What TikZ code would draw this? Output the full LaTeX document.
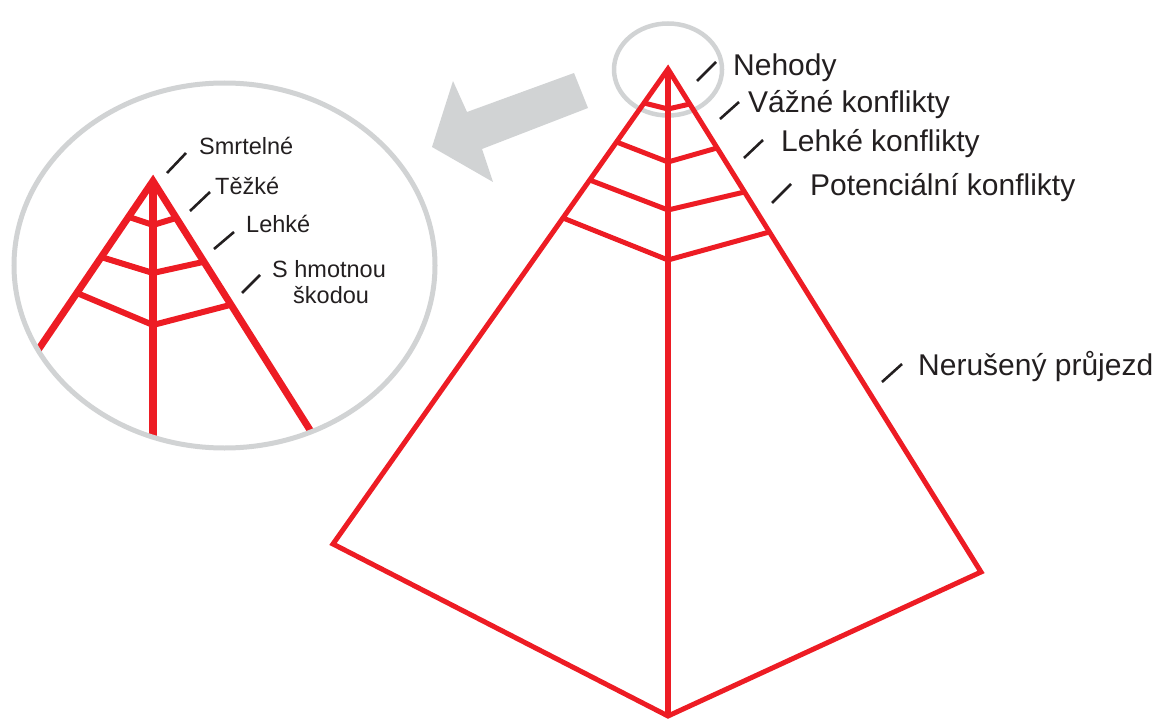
\documentclass[tikz,border=0pt]{standalone}
\usepackage{fontspec}
\setmainfont{Liberation Sans}
\definecolor{pyrred}{HTML}{ED1C24}
\definecolor{zoomgray}{HTML}{D1D3D4}
\definecolor{txt}{HTML}{231F20}
\begin{document}
\begin{tikzpicture}[x=1pt,y=-1pt,
  redline/.style={draw=pyrred, line width=#1, line join=miter, miter limit=10},
  tickline/.style={draw=txt, line width=2.6pt},
  graystroke/.style={draw=zoomgray, line width=#1},
  biglabel/.style={anchor=base west, inner sep=0pt, text=txt, font=\fontsize{30pt}{36pt}\selectfont},
  smalllabel/.style={anchor=base west, inner sep=0pt, text=txt, font=\fontsize{23.5pt}{28pt}\selectfont},
]
\useasboundingbox (0,0) rectangle (1166,722);

% ---------- magnifier circle (left) ----------
\coordinate (zc) at (224.5,265.5);
\begin{scope}
  \clip (zc) ellipse [x radius=211pt, y radius=183pt];
  \coordinate (a) at (153,181);
  \coordinate (al) at (-51,481);
  \coordinate (ar) at (388.5,554.5);
  \coordinate (ab) at (153,470);
  \draw[redline=7pt] (al) -- (a) -- (ar);
  \draw[redline=8pt] (a) -- (ab);
  \coordinate (b1l) at (129,217); \coordinate (b1c) at (153,225); \coordinate (b1r) at (176,218);
  \coordinate (b2l) at (101,257); \coordinate (b2c) at (153,273); \coordinate (b2r) at (203,262);
  \coordinate (b3l) at (77,293);  \coordinate (b3c) at (153,325); \coordinate (b3r) at (230,305);
  \draw[redline=6pt] (b1l) -- (b1c) -- (b1r);
  \draw[redline=6pt] (b2l) -- (b2c) -- (b2r);
  \draw[redline=6pt] (b3l) -- (b3c) -- (b3r);
\end{scope}
\draw[graystroke=5pt] (zc) ellipse [x radius=210.5pt, y radius=182.5pt];

% inner labels and ticks
\coordinate (t1a) at (167,173); \coordinate (t1b) at (186,153);
\coordinate (t2a) at (190,211); \coordinate (t2b) at (210,192);
\coordinate (t3a) at (214,249); \coordinate (t3b) at (234,232);
\coordinate (t4a) at (242,293); \coordinate (t4b) at (260,275);
\draw[tickline] (t1a) -- (t1b);
\draw[tickline] (t2a) -- (t2b);
\draw[tickline] (t3a) -- (t3b);
\draw[tickline] (t4a) -- (t4b);
\node[smalllabel] (smrt) at (199,155) {Smrtelné};
\node[smalllabel] (tezk) at (215,194) {Těžké};
\node[smalllabel] (lehk) at (246,232) {Lehké};
\node[smalllabel] (hmot) at (272,277) {S hmotnou};
\node[smalllabel] (skod) at (293,303) {škodou};

% ---------- gray arrow ----------
\fill[zoomgray] (574,73) -- (588,108) -- (482,149) -- (493,182) -- (432,147) -- (453,81) -- (467,112) -- cycle;

% ---------- small circle around apex ----------
\coordinate (sc) at (668,69.5);
\draw[graystroke=4.5pt] (sc) ellipse [x radius=54pt, y radius=46pt];

% ---------- main pyramid ----------
\coordinate (A) at (668,69);
\coordinate (L) at (333,544);
\coordinate (B) at (668,716);
\coordinate (R) at (981,572);
\draw[redline=5pt] (A) -- (L) -- (B) -- (R) -- cycle;
\draw[redline=5.5pt] (A) -- (B);
\coordinate (m1l) at (644,103);   \coordinate (m1c) at (668,109); \coordinate (m1r) at (690,104);
\coordinate (m2l) at (616.5,142); \coordinate (m2c) at (668,162); \coordinate (m2r) at (717,148);
\coordinate (m3l) at (589.7,180); \coordinate (m3c) at (668,210); \coordinate (m3r) at (744.5,192);
\coordinate (m4l) at (563,218);   \coordinate (m4c) at (668,260); \coordinate (m4r) at (769.4,232);
\draw[redline=5pt] (m1l) -- (m1c) -- (m1r);
\draw[redline=5pt] (m2l) -- (m2c) -- (m2r);
\draw[redline=5pt] (m3l) -- (m3c) -- (m3r);
\draw[redline=5pt] (m4l) -- (m4c) -- (m4r);

% main labels and ticks
\coordinate (n1a) at (697,81);  \coordinate (n1b) at (716,62);
\coordinate (n2a) at (720,119); \coordinate (n2b) at (739,102);
\coordinate (n3a) at (744,158); \coordinate (n3b) at (763,140);
\coordinate (n4a) at (772,203); \coordinate (n4b) at (791,184);
\coordinate (n5a) at (882,382); \coordinate (n5b) at (902,364);
\draw[tickline] (n1a) -- (n1b);
\draw[tickline] (n2a) -- (n2b);
\draw[tickline] (n3a) -- (n3b);
\draw[tickline] (n4a) -- (n4b);
\draw[tickline] (n5a) -- (n5b);
\node[biglabel] (neh) at (733,76) {Nehody};
\node[biglabel] (vaz) at (748,113) {Vážné konflikty};
\node[biglabel] (leh) at (781,152) {Lehké konflikty};
\node[biglabel] (pot) at (810,196) {Potenciální konflikty};
\node[biglabel] (ner) at (918,375) {Nerušený průjezd};
\end{tikzpicture}
\end{document}
